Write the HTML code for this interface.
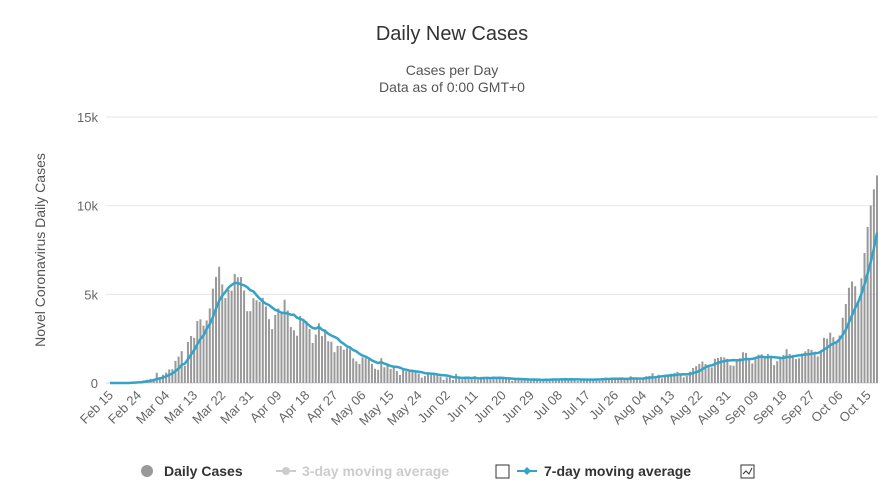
<!DOCTYPE html>
<html><head><meta charset="utf-8"><style>
body{margin:0;background:#fff;font-family:"Liberation Sans",sans-serif}
svg text{font-family:"Liberation Sans",sans-serif}
</style></head><body>
<svg id="c" width="893" height="495" viewBox="0 0 893 495">
<text x="452" y="40" text-anchor="middle" font-size="20" fill="#333">Daily New Cases</text>
<text x="452" y="75" text-anchor="middle" font-size="14" fill="#555">Cases per Day</text>
<text x="452" y="92" text-anchor="middle" font-size="14" fill="#555">Data as of 0:00 GMT+0</text>
<text transform="translate(45,250) rotate(-90)" text-anchor="middle" font-size="14" fill="#555">Novel Coronavirus Daily Cases</text>
<g id="grid"></g><g id="bars"></g><g id="line"></g><g id="xt"></g>
<g>
<g><circle cx="147" cy="471" r="6" fill="#999"/><text x="164" y="476" font-size="14" font-weight="bold" fill="#333">Daily Cases</text></g>
<g><line x1="276" y1="471" x2="296" y2="471" stroke="#ccc" stroke-width="2"/><circle cx="286" cy="471" r="4" fill="#ccc"/><text x="302" y="476" font-size="14" font-weight="bold" fill="#ccc">3-day moving average</text></g>
<rect x="496" y="465" width="13" height="13" fill="#fff" stroke="#333"/>
<g><line x1="517" y1="471" x2="537" y2="471" stroke="#33a3c7" stroke-width="2"/><path d="M527 467 L531 471 L527 475 L523 471Z" fill="#33a3c7"/><text x="544" y="476" font-size="14" font-weight="bold" fill="#333">7-day moving average</text></g>
<g><rect x="741" y="465" width="13" height="13" fill="#fff" stroke="#333"/><path d="M743 474 L746 471 L749 474 L752 468" stroke="#333" fill="none"/></g>
</g>
</svg>
<script>
const startDate = [2020, 2, 15];
const dailyCases = [0,0,0,0,0,0,17,58,76,72,94,147,185,234,239,
573,335,466,587,769,778,1247,1492,1797,977,2313,2651,2547,3497,3590,3233,3526,4207,5322,5986,6557,5560,4789,5249,5210,6153,5959,5974,5217,4050,4053,
4782,4668,4585,4805,4316,3599,3039,3836,4204,3951,4694,4092,3153,2972,2667,3786,3493,3491,3047,2256,2729,3370,2646,3021,2357,2324,1739,2091,2086,1872,
1965,1900,1389,1221,1075,1444,1401,1327,1083,802,744,1402,888,992,789,875,675,451,813,665,642,652,669,531,300,397,584,593,516,416,355,
178,318,321,177,518,270,197,280,283,202,379,163,346,338,301,210,329,333,251,262,224,218,122,190,296,259,175,174,126,142,
187,201,223,235,192,208,138,193,229,276,188,234,169,114,162,230,233,218,219,190,129,282,306,252,275,255,170,181,212,289,379,
295,239,159,190,384,402,552,347,463,259,412,481,523,574,629,479,320,403,642,845,947,1071,1210,1071,953,878,1367,1411,1462,1444,1365,
996,975,1326,1397,1733,1695,1297,1108,1370,1597,1616,1501,1638,1458,1008,1229,1452,1585,1907,1638,1587,1350,1392,1640,1786,1912,1869,1766,1494,1851,
2548,2499,2844,2578,2257,2677,3678,4458,5372,5724,5456,4619,5901,7332,8804,10010,10925,11705];
const yTicks = [0,5000,10000,15000];
const yTickLabels = ["0","5k","10k","15k"];
const tickEvery = 9;

const NS="http://www.w3.org/2000/svg";
const X0=110, X1=877, Y0=383, Y1=117, YMAX=15000;
const n=dailyCases.length;
const step=(X1-X0)/(n-1);
const xs=i=>X0+i*step;
const ys=v=>Y0-(v/YMAX)*(Y0-Y1);
function mk(tag,attrs,parent){const e=document.createElementNS(NS,tag);for(const k in attrs)e.setAttribute(k,attrs[k]);parent.appendChild(e);return e;}
const grid=document.getElementById('grid');
yTicks.forEach((t,i)=>{
  const l=mk('line',{x1:106,x2:878,y1:ys(t),y2:ys(t),stroke:i===0?'#ccd6eb':'#e6e6e6','stroke-width':1},grid);
  
  
  const tx=mk('text',{x:98,y:ys(t)+5,'text-anchor':'end','font-size':13,fill:'#666'},grid);
  tx.textContent=yTickLabels[i];
  
  
});
const bars=document.getElementById('bars');
dailyCases.forEach((v,i)=>{
  const r=mk('rect',{x:xs(i)-1,y:ys(v),width:2,height:Y0-ys(v),fill:'#999'},bars);
  
  
});
const ma=dailyCases.map((v,i)=>{const s=dailyCases.slice(Math.max(0,i-6),i+1);return s.reduce((a,b)=>a+b,0)/s.length;});
const p=mk('path',{d:ma.map((v,i)=>(i?'L':'M')+xs(i).toFixed(1)+' '+ys(v).toFixed(1)).join(''),fill:'none',stroke:'#33a3c7','stroke-width':2.5,'stroke-linejoin':'round'},document.getElementById('line'));


const months=["Jan","Feb","Mar","Apr","May","Jun","Jul","Aug","Sep","Oct","Nov","Dec"];
const xt=document.getElementById('xt');
for(let i=0;i<n;i+=tickEvery){
  const d=new Date(startDate[0],startDate[1]-1,startDate[2]+i);
  const lab=months[d.getMonth()]+" "+String(d.getDate()).padStart(2,'0');
  const x=xs(i), y=396;
  const t=mk('text',{x:x+4,y:y,'text-anchor':'end','font-size':13,fill:'#666',transform:`rotate(-45 ${x+4} ${y})`},xt);
  t.textContent=lab;
  
  
}
</script>
</body></html>
